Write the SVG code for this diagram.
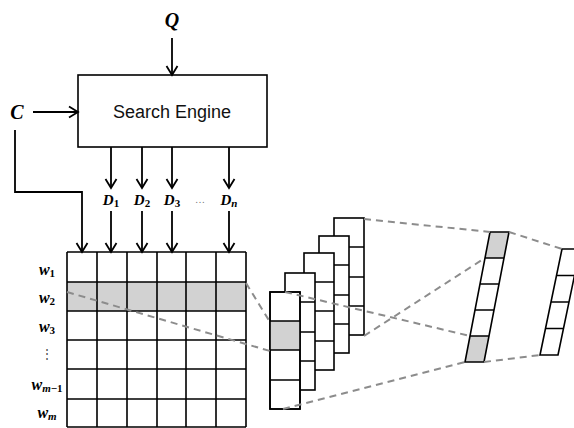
<svg xmlns="http://www.w3.org/2000/svg" width="574" height="428" viewBox="0 0 574 428">
<style>
.ln{stroke:#000;stroke-width:1.8;fill:none}
.ar{stroke:#000;stroke-width:1.8;fill:none;marker-end:url(#arr)}
.cell{stroke:#000;stroke-width:1.6;fill:#fff}
.grid{stroke:#000;stroke-width:1.6;fill:none}
.grey{fill:#d2d2d2}
.dash{stroke:#8c8c8c;stroke-width:2;stroke-dasharray:7,5;fill:none}
.math{font-family:"Liberation Serif","DejaVu Serif",serif;font-weight:bold;font-style:italic;fill:#000}
.sub{font-style:normal}
.lbl{font-family:"Liberation Sans","DejaVu Sans",sans-serif;fill:#111}
</style>
<defs>
<marker id="arr" markerWidth="12" markerHeight="14" refX="10" refY="7" orient="auto" markerUnits="userSpaceOnUse">
<path d="M1,1.5 L10,7 L1,12.5" fill="none" stroke="#000" stroke-width="1.8"/>
</marker>
</defs>
<rect width="574" height="428" fill="#fff"/>

<g id="search-engine">
<rect x="78" y="75" width="189" height="72" class="grid" fill="#fff"/>
<text x="172" y="118" text-anchor="middle" class="lbl" font-size="18">Search Engine</text>
</g>

<g id="label-Q"><text x="172" y="27" text-anchor="middle" class="math" font-size="20">Q</text></g>
<g id="label-C"><text x="17" y="119" text-anchor="middle" class="math" font-size="20">C</text></g>

<g id="doc-labels" class="math" font-size="15">
<text x="111" y="205" text-anchor="middle">D<tspan class="sub" font-size="11" dy="2">1</tspan></text>
<text x="142" y="205" text-anchor="middle">D<tspan class="sub" font-size="11" dy="2">2</tspan></text>
<text x="172" y="205" text-anchor="middle">D<tspan class="sub" font-size="11" dy="2">3</tspan></text>
<text x="200" y="203" text-anchor="middle" font-style="normal" font-weight="normal" font-size="10" fill="#777">…</text>
<text x="229" y="205" text-anchor="middle">D<tspan font-size="11" dy="2">n</tspan></text>
</g>

<g id="word-labels" class="math" font-size="16">
<text x="47" y="275" text-anchor="middle">w<tspan class="sub" font-size="11" dy="2">1</tspan></text>
<text x="47" y="303" text-anchor="middle">w<tspan class="sub" font-size="11" dy="2">2</tspan></text>
<text x="47" y="332" text-anchor="middle">w<tspan class="sub" font-size="11" dy="2">3</tspan></text>
<text x="47" y="358" text-anchor="middle" font-style="normal" font-weight="normal" font-size="12" fill="#444">⋮</text>
<text x="47" y="390" text-anchor="middle">w<tspan font-size="11" dy="2">m</tspan><tspan class="sub" font-size="11">−1</tspan></text>
<text x="47" y="418" text-anchor="middle">w<tspan font-size="11" dy="2">m</tspan></text>
</g>

<g id="matrix">
<rect x="67" y="282" width="179" height="29" class="grey"/>
<path class="grid" d="M67,252H246M67,282H246M67,311H246M67,340H246M67,369H246M67,399H246M67,427H246M67,252V427M97,252V427M127,252V427M157,252V427M186,252V427M216,252V427M246,252V427"/>
</g>

<g id="feature-maps">
<g id="map5"><rect x="334" y="218" width="30" height="117" class="cell"/><path class="grid" d="M334,247H364M334,277H364M334,306H364"/></g>
<g id="map4"><rect x="319" y="236" width="30" height="117" class="cell"/><path class="grid" d="M319,265H349M319,295H349M319,324H349"/></g>
<g id="map3"><rect x="304" y="253" width="30" height="117" class="cell"/><path class="grid" d="M304,282H334M304,311H334M304,341H334"/></g>
<g id="map2"><rect x="285" y="273" width="30" height="117" class="cell"/><path class="grid" d="M285,302H315M285,332H315M285,361H315"/></g>
<g id="map1"><rect x="270" y="292" width="30" height="117" class="cell"/><rect x="270" y="321" width="30" height="29" class="grey"/><path class="grid" d="M270,292H300V409H270ZM270,321H300M270,350H300M270,380H300"/></g>
</g>

<g id="vector1">
<polygon points="490,232 509,232 504,258 485,258" class="grey"/>
<polygon points="470,336 489,336 484,362 465,362" class="grey"/>
<path class="grid" d="M490,232H509L484,362H465ZM485,258H504M480,284H499M475,310H494M470,336H489"/>
</g>

<g id="vector2">
<path class="grid" d="M562,249H580L558,355H540ZM556.5,275.5H574.5M551,302H569M545.5,328.5H563.5"/>
</g>

<g id="connectors">
<line x1="172" y1="38" x2="172" y2="75" class="ar"/>
<line x1="33" y1="112" x2="78" y2="112" class="ar"/>
<polyline points="15,130 15,192 82,192 82,252" class="ar"/>
<line x1="111" y1="147" x2="111" y2="188" class="ar"/>
<line x1="142" y1="147" x2="142" y2="188" class="ar"/>
<line x1="172" y1="147" x2="172" y2="188" class="ar"/>
<line x1="229" y1="147" x2="229" y2="188" class="ar"/>
<line x1="111" y1="211" x2="111" y2="252" class="ar"/>
<line x1="142" y1="211" x2="142" y2="252" class="ar"/>
<line x1="172" y1="211" x2="172" y2="252" class="ar"/>
<line x1="229" y1="211" x2="229" y2="252" class="ar"/>
<line x1="67" y1="292" x2="270" y2="351" class="dash"/>
<line x1="246" y1="283" x2="270" y2="322" class="dash"/>
<line x1="364" y1="219" x2="490" y2="232" class="dash"/>
<line x1="364" y1="336" x2="485" y2="258" class="dash"/>
<line x1="285" y1="292" x2="470" y2="336" class="dash"/>
<line x1="283" y1="409" x2="465" y2="362" class="dash"/>
<line x1="509" y1="232" x2="562" y2="249" class="dash"/>
<line x1="484" y1="362" x2="540" y2="355" class="dash"/>
</g>
</svg>
